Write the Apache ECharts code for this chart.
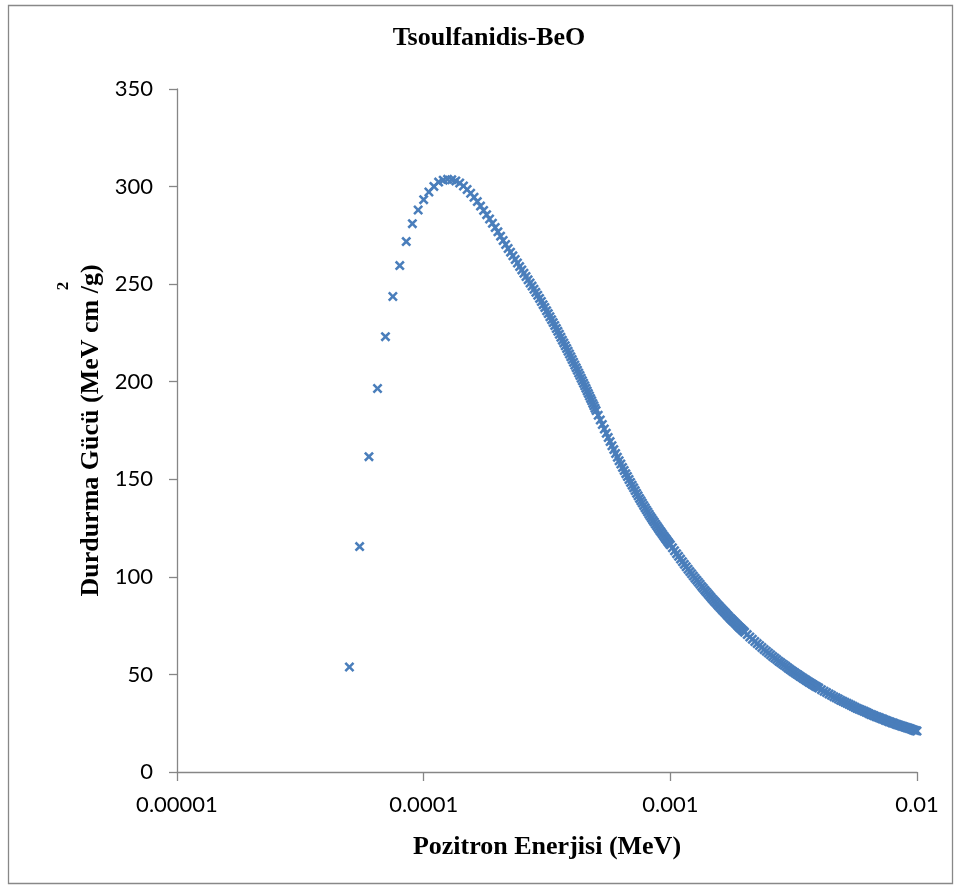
<!DOCTYPE html>
<html>
<head>
<meta charset="utf-8">
<script src="https://cdn.jsdelivr.net/npm/echarts@6/dist/echarts.min.js"></script>
<style>
html,body{margin:0;padding:0;background:#fff;}
#chart{width:960px;height:890px;}
</style>
</head>
<body>
<div id="chart"></div>
<script>
// Positron energy (MeV)
const energyMeV = [
  0.00005,0.000055,0.00006,0.000065,0.00007,0.000075,0.00008,0.000085,0.00009,0.000095,
  0.0001,0.000105,0.00011,0.000115,0.00012,0.000125,0.00013,0.000135,0.00014,0.000145,
  0.00015,0.000155,0.00016,0.000165,0.00017,0.000175,0.00018,0.000185,0.00019,0.000195,0.0002,
  0.000205,0.00021,0.000215,0.00022,0.000225,0.00023,0.000235,0.00024,0.000245,0.00025,
  0.000255,0.00026,0.000265,0.00027,0.000275,0.00028,0.000285,0.00029,0.000295,0.0003,
  0.000305,0.00031,0.000315,0.00032,0.000325,0.00033,0.000335,0.00034,0.000345,0.00035,
  0.000355,0.00036,0.000365,0.00037,0.000375,0.00038,0.000385,0.00039,0.000395,0.0004,
  0.000405,0.00041,0.000415,0.00042,0.000425,0.00043,0.000435,0.00044,0.000445,0.00045,
  0.000455,0.00046,0.000465,0.00047,0.000475,0.00048,0.000485,0.00049,0.000495,0.0005,
  0.00051,0.00052,0.00053,0.00054,0.00055,0.00056,0.00057,0.00058,0.00059,0.0006,
  0.00061,0.00062,0.00063,0.00064,0.00065,0.00066,0.00067,0.00068,0.00069,0.0007,
  0.00071,0.00072,0.00073,0.00074,0.00075,0.00076,0.00077,0.00078,0.00079,0.0008,
  0.00081,0.00082,0.00083,0.00084,0.00085,0.00086,0.00087,0.00088,0.00089,0.0009,
  0.00091,0.00092,0.00093,0.00094,0.00095,0.00096,0.00097,0.00098,0.00099,0.001,
  0.00102,0.00104,0.00106,0.00108,0.0011,0.00112,0.00114,0.00116,0.00118,0.0012,
  0.00122,0.00124,0.00126,0.00128,0.0013,0.00132,0.00134,0.00136,0.00138,0.0014,
  0.00142,0.00144,0.00146,0.00148,0.0015,0.00152,0.00154,0.00156,0.00158,0.0016,
  0.00162,0.00164,0.00166,0.00168,0.0017,0.00172,0.00174,0.00176,0.00178,0.0018,
  0.00182,0.00184,0.00186,0.00188,0.0019,0.00192,0.00194,0.00196,0.00198,0.002,
  0.00205,0.0021,0.00215,0.0022,0.00225,0.0023,0.00235,0.0024,0.00245,0.0025,
  0.00255,0.0026,0.00265,0.0027,0.00275,0.0028,0.00285,0.0029,0.00295,0.003,
  0.00305,0.0031,0.00315,0.0032,0.00325,0.0033,0.00335,0.0034,0.00345,0.0035,
  0.00355,0.0036,0.00365,0.0037,0.00375,0.0038,0.00385,0.0039,0.00395,0.004,
  0.0041,0.0042,0.0043,0.0044,0.0045,0.0046,0.0047,0.0048,0.0049,0.005,
  0.0051,0.0052,0.0053,0.0054,0.0055,0.0056,0.0057,0.0058,0.0059,0.006,
  0.0061,0.0062,0.0063,0.0064,0.0065,0.0066,0.0067,0.0068,0.0069,0.007,
  0.0071,0.0072,0.0073,0.0074,0.0075,0.0076,0.0077,0.0078,0.0079,0.008,
  0.0081,0.0082,0.0083,0.0084,0.0085,0.0086,0.0087,0.0088,0.0089,0.009,
  0.0091,0.0092,0.0093,0.0094,0.0095,0.0096,0.0097,0.0098,0.0099,0.01
];
// Stopping power (MeV cm2/g)
const stoppingPower = [
  53.8,115.5,161.6,196.5,223.1,243.7,259.5,271.8,281.0,288.0,
  293.3,297.2,300.1,302.3,303.3,303.7,303.5,302.9,301.8,300.3,
  298.5,296.6,294.5,292.3,290.0,287.8,285.6,283.4,281.2,279.0,276.8,
  274.6,272.4,270.3,268.3,266.4,264.5,262.6,260.8,259.0,257.3,
  255.6,253.9,252.2,250.6,249.0,247.4,245.8,244.3,242.7,241.1,
  239.5,238.0,236.4,234.9,233.3,231.8,230.3,228.8,227.3,225.8,
  224.3,222.8,221.3,219.9,218.4,217.0,215.6,214.2,212.8,211.4,
  210.0,208.6,207.2,205.9,204.5,203.2,201.8,200.5,199.2,197.9,
  196.6,195.3,194.0,192.7,191.4,190.2,188.9,187.7,186.4,185.2,
  182.8,180.4,178.1,175.8,173.6,171.4,169.3,167.2,165.2,163.2,
  161.3,159.5,157.8,156.1,154.5,152.9,151.4,149.9,148.4,147.0,
  145.6,144.2,142.8,141.5,140.2,139.0,137.8,136.6,135.4,134.3,
  133.2,132.1,131.0,130.0,129.0,128.1,127.1,126.2,125.3,124.4,
  123.5,122.7,121.8,121.0,120.2,119.4,118.6,117.9,117.1,116.4,
  114.9,113.4,111.9,110.5,109.1,107.8,106.4,105.2,103.9,102.7,
  101.6,100.4,99.3,98.3,97.2,96.2,95.1,94.2,93.2,92.3,
  91.4,90.5,89.6,88.7,87.9,87.1,86.3,85.5,84.8,84.0,
  83.3,82.6,81.9,81.2,80.5,79.8,79.1,78.5,77.9,77.3,
  76.7,76.1,75.5,74.9,74.3,73.8,73.3,72.7,72.2,71.6,
  70.4,69.2,68.0,66.9,65.8,64.8,63.8,62.8,61.9,61.0,
  60.1,59.2,58.4,57.6,56.8,56.1,55.4,54.7,54.0,53.3,
  52.6,52.0,51.4,50.8,50.2,49.7,49.1,48.6,48.0,47.5,
  47.0,46.5,46.0,45.6,45.1,44.7,44.2,43.8,43.4,43.0,
  42.2,41.4,40.7,40.0,39.3,38.6,38.0,37.4,36.8,36.3,
  35.7,35.2,34.7,34.2,33.7,33.2,32.7,32.3,31.9,31.5,
  31.1,30.7,30.3,29.9,29.5,29.2,28.8,28.5,28.2,27.9,
  27.6,27.3,27.0,26.7,26.4,26.1,25.8,25.6,25.3,25.1,
  24.8,24.6,24.3,24.1,23.9,23.7,23.5,23.3,23.1,22.9,
  22.7,22.5,22.3,22.1,21.9,21.7,21.5,21.3,21.1,21.0
];
const xTickValues = [0.00001, 0.0001, 0.001, 0.01];
const xTickLabels = ['0.00001', '0.0001', '0.001', '0.01'];
const yTickValues = [0, 50, 100, 150, 200, 250, 300, 350];

const chartTitle = 'Tsoulfanidis-BeO';
const xName = 'Pozitron Enerjisi (MeV)';
const yName = 'Durdurma Gücü (MeV cm /g)';
const ySup = '2';

const points = energyMeV.map((e, i) => [e, stoppingPower[i]]);

const chart = echarts.init(document.getElementById('chart'), null, {renderer: 'canvas'});
const serif = '"Liberation Serif", "Times New Roman", serif';
const sans = 'Lato, "Open Sans", sans-serif';
const axisGray = '#868686';

chart.setOption({
  backgroundColor: '#ffffff',
  animation: false,
  title: {
    text: chartTitle,
    left: 489,
    top: 25,
    padding: 0,
    textAlign: 'center',
    textStyle: {fontFamily: serif, fontWeight: 'bold', fontSize: 26, color: '#000'}
  },
  grid: {left: 177, right: 43, top: 89, bottom: 118, containLabel: false},
  xAxis: {
    type: 'log',
    logBase: 10,
    min: xTickValues[0],
    max: xTickValues[xTickValues.length - 1],
    name: xName,
    nameLocation: 'middle',
    nameGap: 62,
    nameTextStyle: {fontFamily: serif, fontWeight: 'bold', fontSize: 26, color: '#000'},
    axisLine: {show: true, lineStyle: {color: axisGray, width: 1.3}},
    axisTick: {show: true, inside: false, length: 9, lineStyle: {color: axisGray, width: 1.3}},
    minorTick: {show: false},
    splitLine: {show: false},
    axisLabel: {
      margin: 22,
      fontFamily: sans,
      fontSize: 22,
      color: '#000',
      formatter: function (v) {
        for (let i = 0; i < xTickValues.length; i++) {
          if (Math.abs(Math.log10(v) - Math.log10(xTickValues[i])) < 1e-6) return xTickLabels[i];
        }
        return '';
      }
    }
  },
  yAxis: {
    type: 'value',
    min: yTickValues[0],
    max: yTickValues[yTickValues.length - 1],
    interval: yTickValues[1] - yTickValues[0],
    name: yName,
    nameLocation: 'middle',
    nameGap: 72,
    nameTextStyle: {fontFamily: serif, fontWeight: 'bold', fontSize: 26, color: '#000'},
    axisLine: {show: true, lineStyle: {color: axisGray, width: 1.3}},
    axisTick: {show: true, inside: false, length: 8, lineStyle: {color: axisGray, width: 1.3}},
    splitLine: {show: false},
    axisLabel: {margin: 24, fontFamily: sans, fontSize: 22, color: '#000'}
  },
  graphic: [
    {
      type: 'rect',
      silent: true,
      z: -10,
      shape: {x: 8.5, y: 5.5, width: 944, height: 878},
      style: {fill: 'none', stroke: '#888888', lineWidth: 1.3}
    },
    {
      type: 'text',
      silent: true,
      x: 64,
      y: 286,
      rotation: Math.PI / 2,
      style: {
        text: ySup,
        fontFamily: serif,
        fontWeight: 'bold',
        fontSize: 17,
        fill: '#000',
        align: 'center',
        verticalAlign: 'middle'
      }
    }
  ],
  series: [{
    type: 'scatter',
    data: points,
    symbol: 'path://M1.8,0 L5,3.2 L8.2,0 L10,1.8 L6.8,5 L10,8.2 L8.2,10 L5,6.8 L1.8,10 L0,8.2 L3.2,5 L0,1.8 Z',
    symbolSize: 10,
    itemStyle: {color: '#4a7ebb', opacity: 1},
    emphasis: {disabled: true},
    large: false
  }]
});
</script>
</body>
</html>
